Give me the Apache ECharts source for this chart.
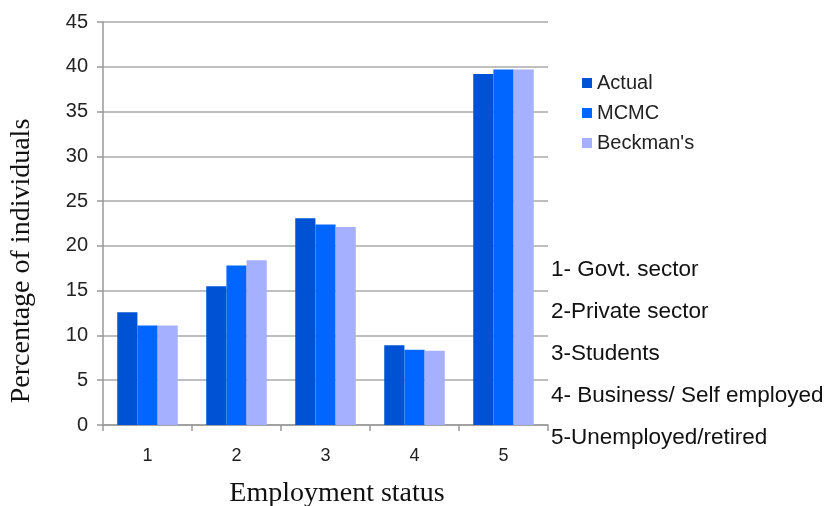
<!DOCTYPE html>
<html>
<head>
<meta charset="utf-8">
<script src="https://cdn.jsdelivr.net/npm/echarts@6/dist/echarts.min.js"></script>
<style>
  html, body { margin: 0; padding: 0; background: #fff; }
  #chart { width: 836px; height: 506px; }
</style>
</head>
<body>
<div id="chart"></div>
<script>
// Employment status categories and the three estimates (percent of individuals)
const categories = ['1', '2', '3', '4', '5'];
const actual    = [12.6, 15.5, 23.1, 8.9, 39.2];
const mcmc      = [11.1, 17.8, 22.4, 8.4, 39.7];
const beckmans  = [11.1, 18.4, 22.1, 8.3, 39.7];
const seriesNames = ['Actual', 'MCMC', "Beckman's"];
const yTicks = [0, 5, 10, 15, 20, 25, 30, 35, 40, 45];
// Key for the category numbers
const statusKey = [
  '1- Govt. sector',
  '2-Private sector',
  '3-Students',
  '4- Business/ Self employed',
  '5-Unemployed/retired'
];

const colors = ['#0052D4', '#0066FF', '#A5B0FF'];
const sans = 'Arial, "Liberation Sans", sans-serif';
const serif = '"Times New Roman", "Liberation Serif", serif';

const chart = echarts.init(document.getElementById('chart'));

const keyTexts = statusKey.map((t, i) => ({
  type: 'text',
  left: 551,
  top: 258 + i * 42,
  style: { text: t, font: '22.5px ' + sans, fill: '#111' }
}));

chart.setOption({
  animation: false,
  color: colors,
  grid: { left: 103, top: 22, right: 288, bottom: 81 },
  legend: {
    orient: 'vertical',
    left: 577,
    top: 68,
    itemWidth: 10,
    itemHeight: 10,
    itemGap: 10,
    icon: 'rect',
    data: seriesNames,
    textStyle: { fontFamily: sans, fontSize: 20, color: '#222' }
  },
  xAxis: {
    type: 'category',
    data: categories,
    axisLine: { lineStyle: { color: '#999', width: 1.5 } },
    axisTick: { show: true, length: 6, lineStyle: { color: '#999', width: 1.5 } },
    axisLabel: { fontFamily: sans, fontSize: 18, color: '#222', margin: 22 },
    splitLine: { show: false }
  },
  yAxis: {
    type: 'value',
    min: yTicks[0],
    max: yTicks[yTicks.length - 1],
    interval: 5,
    axisLine: { show: true, lineStyle: { color: '#999', width: 1.5 } },
    axisTick: { show: true, length: 6, lineStyle: { color: '#999', width: 1.5 } },
    axisLabel: { fontFamily: sans, fontSize: 20, color: '#222', margin: 15 },
    splitLine: { lineStyle: { color: '#aaa', width: 1.5 } }
  },
  series: [
    { name: seriesNames[0], type: 'bar', data: actual,   barGap: '0%', barCategoryGap: '32%' },
    { name: seriesNames[1], type: 'bar', data: mcmc,     barGap: '0%', barCategoryGap: '32%' },
    { name: seriesNames[2], type: 'bar', data: beckmans, barGap: '0%', barCategoryGap: '32%' }
  ],
  graphic: [
    {
      type: 'text',
      x: 22,
      y: 261,
      rotation: Math.PI / 2,
      style: {
        text: 'Percentage of individuals',
        font: '28px ' + serif,
        fill: '#111',
        textAlign: 'center',
        textVerticalAlign: 'middle'
      }
    },
    {
      type: 'text',
      x: 337,
      y: 494,
      style: {
        text: 'Employment status',
        font: '28px ' + serif,
        fill: '#111',
        textAlign: 'center',
        textVerticalAlign: 'middle'
      }
    }
  ].concat(keyTexts)
});
</script>
</body>
</html>
